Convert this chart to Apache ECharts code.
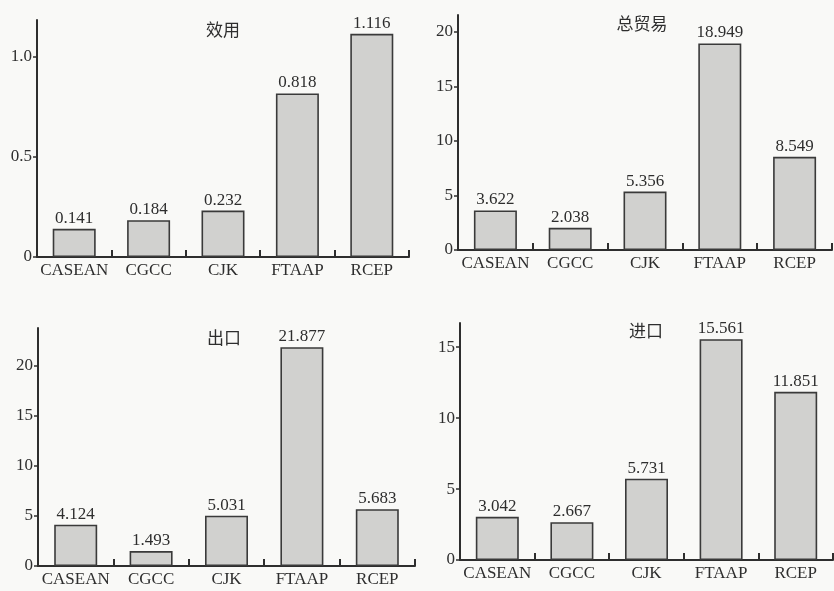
<!DOCTYPE html>
<html>
<head>
<meta charset="utf-8">
<script src="https://cdn.jsdelivr.net/npm/echarts@6/dist/echarts.min.js"></script>
<style>
html,body{margin:0;padding:0;background:#f9f9f7;}
#chart{width:834px;height:591px;}
</style>
</head>
<body>
<div id="chart"></div>
<script>
const categories = ['CASEAN', 'CGCC', 'CJK', 'FTAAP', 'RCEP'];
const utilityValues = [0.141, 0.184, 0.232, 0.818, 1.116];
const totalTradeValues = [3.622, 2.038, 5.356, 18.949, 8.549];
const exportValues = [4.124, 1.493, 5.031, 21.877, 5.683];
const importValues = [3.042, 2.667, 5.731, 15.561, 11.851];
const panelTitles = ['效用', '总贸易', '出口', '进口'];
const utilityTicks = [0, 0.5, 1.0];
const totalTradeTicks = [0, 5, 10, 15, 20];
const exportTicks = [0, 5, 10, 15, 20];
const importTicks = [0, 5, 10, 15];

const panels = [
  {values: utilityValues, ticks: utilityTicks, max: 1.185, grid: {left: 37, top: 20, width: 372, height: 237}, title: [223, 21], dec: 1},
  {values: totalTradeValues, ticks: totalTradeTicks, max: 21.56, grid: {left: 458, top: 15, width: 374, height: 235}, title: [642, 15], dec: 0},
  {values: exportValues, ticks: exportTicks, max: 23.8, grid: {left: 38, top: 328, width: 377, height: 238}, title: [224, 329], dec: 0},
  {values: importValues, ticks: importTicks, max: 16.7, grid: {left: 460, top: 323, width: 373, height: 237}, title: [646, 322], dec: 0}
];

const serif = '"Liberation Serif", "Times New Roman", serif';
const ink = '#2e2e2e';
const chart = echarts.init(document.getElementById('chart'), null, {renderer: 'canvas'});

const option = {
  backgroundColor: '#f9f9f7',
  animation: false,
  title: panels.map((p, i) => ({
    text: panelTitles[i],
    left: p.title[0],
    top: p.title[1],
    padding: 0,
    textAlign: 'center',
    textStyle: {fontFamily: '"Noto Sans CJK SC"', fontWeight: 'normal', fontSize: 17, color: ink}
  })),
  grid: panels.map(p => Object.assign({containLabel: false}, p.grid)),
  xAxis: panels.map((p, i) => ({
    type: 'category',
    gridIndex: i,
    data: categories,
    axisLine: {lineStyle: {color: ink, width: 2}},
    axisTick: {show: true, inside: true, length: 7, lineStyle: {color: ink, width: 2}},
    axisLabel: {fontFamily: serif, fontSize: 17, color: ink, margin: 5, interval: 0},
    splitLine: {show: false}
  })),
  yAxis: panels.map((p, i) => ({
    type: 'value',
    gridIndex: i,
    min: 0,
    max: p.max,
    axisLine: {show: true, lineStyle: {color: ink, width: 2}},
    axisTick: {show: true, length: 4, customValues: p.ticks, lineStyle: {color: ink, width: 1.5}},
    axisLabel: {
      fontFamily: serif, fontSize: 17, color: ink, margin: 5,
      customValues: p.ticks,
      formatter: v => v === 0 ? '0' : v.toFixed(p.dec)
    },
    splitLine: {show: false}
  })),
  series: panels.map((p, i) => ({
    type: 'bar',
    xAxisIndex: i,
    yAxisIndex: i,
    data: p.values,
    barWidth: 43,
    itemStyle: {color: '#d1d1cf', borderColor: '#3a3a3a', borderWidth: 1.6},
    label: {
      show: true,
      position: 'top',
      distance: 2,
      fontFamily: serif,
      fontSize: 17,
      color: ink,
      formatter: d => d.value.toFixed(3)
    }
  }))
};
chart.setOption(option);
</script>
</body>
</html>
